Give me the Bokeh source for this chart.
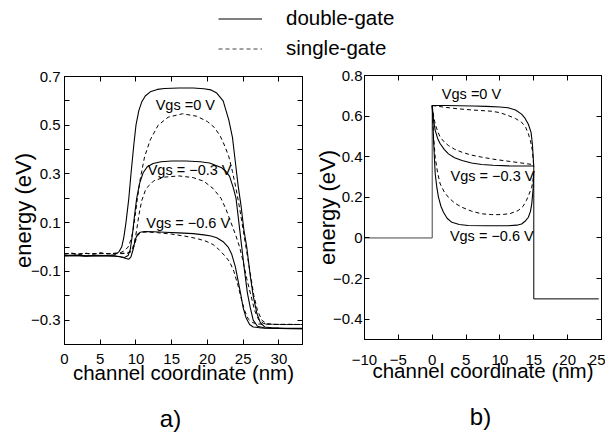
from bokeh.plotting import figure
from bokeh.layouts import column, row
from bokeh.models import Range1d, FixedTicker, LinearAxis, Label, Legend, LegendItem
from bokeh.embed import file_html
from bokeh.resources import INLINE

FONT = "Liberation Sans"

# ---------------- panel a) data ----------------
a_dg0_x = [0, 1.5, 3, 4.5, 6, 7.0, 7.6, 8.0, 8.3, 8.6, 9.0, 9.3, 9.7, 10.0, 10.4, 10.8, 11.3, 12.0, 13.0, 14.0, 16.0, 18.0, 19.5, 20.5, 21.3, 22.2, 23.0, 23.5, 23.9, 24.3, 24.7, 25.1, 25.5, 26.0, 26.4, 26.9, 27.4, 28.0, 29.0, 31.0, 33.3]
a_dg0_y = [-0.035, -0.033, -0.036, -0.034, -0.035, -0.032, -0.02, 0.0, 0.04, 0.1, 0.2, 0.3, 0.42, 0.5, 0.56, 0.595, 0.62, 0.637, 0.647, 0.651, 0.653, 0.653, 0.65, 0.645, 0.632, 0.6, 0.52, 0.45, 0.35, 0.25, 0.17, 0.07, 0.0, -0.12, -0.2, -0.27, -0.31, -0.328, -0.331, -0.333, -0.334]
a_dg3_x = [0, 1.5, 3, 4.5, 6, 7.0, 7.8, 8.4, 8.9, 9.2, 9.5, 9.8, 10.1, 10.5, 11.0, 11.6, 12.4, 13.5, 15.0, 17.0, 19.0, 20.3, 21.2, 22.0, 22.6, 23.1, 23.6, 24.0, 24.4, 24.8, 25.2, 25.6, 26.0, 26.4, 27.0, 28.0, 30.0, 33.3]
a_dg3_y = [-0.036, -0.034, -0.037, -0.035, -0.036, -0.036, -0.04, -0.043, -0.035, -0.01, 0.05, 0.13, 0.2, 0.26, 0.305, 0.33, 0.343, 0.35, 0.353, 0.353, 0.35, 0.345, 0.335, 0.325, 0.31, 0.29, 0.245, 0.2, 0.1, 0.0, -0.1, -0.19, -0.25, -0.3, -0.325, -0.332, -0.334, -0.335]
a_dg6_x = [0, 1.5, 3, 4.5, 6, 7.0, 7.8, 8.5, 9.0, 9.3, 9.6, 9.9, 10.2, 10.6, 11.2, 12.5, 14.0, 16.0, 18.0, 19.5, 20.5, 21.3, 22.2, 22.9, 23.4, 23.9, 24.3, 24.7, 25.0, 25.4, 25.9, 26.4, 27.5, 30.0, 33.3]
a_dg6_y = [-0.037, -0.035, -0.038, -0.036, -0.037, -0.038, -0.04, -0.046, -0.05, -0.04, -0.01, 0.03, 0.052, 0.061, 0.064, 0.063, 0.061, 0.058, 0.055, 0.05, 0.045, 0.038, 0.022, 0.0, -0.03, -0.08, -0.14, -0.2, -0.25, -0.29, -0.318, -0.328, -0.332, -0.334, -0.335]
a_sg0_x = [0, 1, 2, 3, 4, 5, 6, 7, 7.7, 8.4, 8.9, 9.3, 9.6, 9.9, 10.2, 10.6, 11.2, 12.0, 13.1, 14.5, 16.5, 18.5, 20.0, 21.0, 21.8, 22.5, 23.0, 23.5, 24.0, 24.5, 25.0, 25.5, 26.0, 26.5, 27.0, 27.6, 28.3, 29.5, 31.0, 33.3]
a_sg0_y = [-0.028, -0.025, -0.03, -0.026, -0.029, -0.025, -0.028, -0.026, -0.025, -0.015, 0.0, 0.03, 0.07, 0.13, 0.2, 0.28, 0.37, 0.44, 0.5, 0.533, 0.547, 0.537, 0.515, 0.49, 0.455, 0.41, 0.37, 0.31, 0.24, 0.16, 0.07, -0.02, -0.11, -0.2, -0.26, -0.3, -0.315, -0.318, -0.317, -0.318]
a_sg3_x = [0, 1, 2, 3, 4, 5, 6, 7, 8.0, 8.8, 9.4, 9.8, 10.1, 10.4, 10.8, 11.4, 12.5, 14.0, 16.0, 18.0, 19.5, 20.8, 21.9, 22.6, 23.3, 24.0, 24.5, 25.0, 25.5, 26.1, 26.6, 27.2, 27.9, 29.0, 31.0, 33.3]
a_sg3_y = [-0.028, -0.026, -0.029, -0.026, -0.028, -0.025, -0.027, -0.026, -0.026, -0.024, -0.015, 0.02, 0.07, 0.13, 0.19, 0.24, 0.272, 0.287, 0.292, 0.285, 0.27, 0.24, 0.2, 0.155, 0.1, 0.045, 0.0, -0.06, -0.13, -0.2, -0.26, -0.3, -0.314, -0.317, -0.318, -0.318]
a_sg6_x = [0, 1, 2, 3, 4, 5, 6, 7, 8.0, 8.8, 9.3, 9.7, 10.0, 10.3, 10.7, 11.5, 13.0, 15.0, 17.0, 18.5, 19.8, 20.8, 21.6, 22.4, 23.1, 23.7, 24.3, 24.8, 25.2, 25.7, 26.3, 27.0, 29.0, 31.0, 33.3]
a_sg6_y = [-0.028, -0.026, -0.029, -0.026, -0.028, -0.025, -0.027, -0.026, -0.027, -0.026, -0.02, 0.0, 0.03, 0.05, 0.06, 0.062, 0.059, 0.053, 0.044, 0.035, 0.024, 0.01, -0.01, -0.035, -0.06, -0.1, -0.16, -0.22, -0.26, -0.295, -0.31, -0.316, -0.317, -0.318, -0.318]

a_xticks = [0, 5, 10, 15, 20, 25, 30]
a_yticks = [-0.3, -0.1, 0.1, 0.3, 0.5, 0.7]
a_yminor = [-0.4, -0.2, 0.0, 0.2, 0.4, 0.6]

# ---------------- panel b) data ----------------
b_src_x = [-10, 0, 0]
b_src_y = [0, 0, 0.652]
b_drn_x = [15, 15, 24.6]
b_drn_y = [0.355, -0.3, -0.3]
b_dg0_x = [0, 2, 4, 6, 8, 10, 11.2, 12.3, 13.2, 13.7, 14.2, 14.6, 14.8, 15.0]
b_dg0_y = [0.652, 0.652, 0.651, 0.65, 0.648, 0.645, 0.641, 0.63, 0.61, 0.59, 0.56, 0.52, 0.46, 0.35]
b_sg0_x = [0, 2, 3.8, 6, 8.8, 10, 11.2, 12.3, 13.2, 13.8, 14.2, 14.5, 14.8, 15.0]
b_sg0_y = [0.652, 0.643, 0.636, 0.63, 0.624, 0.617, 0.603, 0.588, 0.57, 0.545, 0.513, 0.48, 0.43, 0.35]
b_dg3_x = [0, 0.2, 0.44, 0.8, 1.18, 1.8, 2.4, 3.3, 4.4, 5.8, 7.3, 9.0, 11.2, 13.0, 15.0]
b_dg3_y = [0.652, 0.58, 0.53, 0.49, 0.464, 0.435, 0.414, 0.395, 0.381, 0.369, 0.362, 0.358, 0.355, 0.354, 0.354]
b_sg3_x = [0, 0.2, 0.44, 0.8, 1.18, 1.8, 2.4, 3.3, 4.4, 5.8, 7.3, 9.0, 11.2, 13.0, 14.7, 15.0]
b_sg3_y = [0.652, 0.6, 0.562, 0.525, 0.496, 0.472, 0.455, 0.437, 0.422, 0.408, 0.398, 0.388, 0.378, 0.37, 0.362, 0.36]
b_dg6_x = [0, 0.1, 0.2, 0.44, 0.7, 0.93, 1.3, 1.66, 2.2, 2.9, 4.0, 5.3, 8.0, 11.2, 12.5, 13.2, 13.8, 14.2, 14.5, 14.7, 14.9, 15.0]
b_dg6_y = [0.652, 0.57, 0.48, 0.316, 0.245, 0.2, 0.155, 0.127, 0.097, 0.077, 0.066, 0.061, 0.06, 0.06, 0.063, 0.069, 0.085, 0.102, 0.13, 0.168, 0.24, 0.33]
b_sg6_x = [0, 0.2, 0.44, 0.8, 1.18, 1.8, 2.4, 3.3, 4.4, 5.8, 7.3, 8.8, 10.25, 11.5, 12.7, 13.4, 13.9, 14.3, 14.7, 14.9, 15.0]
b_sg6_y = [0.652, 0.5, 0.398, 0.32, 0.266, 0.225, 0.2, 0.172, 0.151, 0.132, 0.119, 0.115, 0.115, 0.12, 0.135, 0.155, 0.184, 0.215, 0.25, 0.29, 0.33]

b_xticks = [-10, -5, 0, 5, 10, 15, 20, 25]
b_yticks = [-0.4, -0.2, 0.0, 0.2, 0.4, 0.6, 0.8]

legend_labels = ["double-gate", "single-gate"]
vgs_labels = ["Vgs =0 V", "Vgs = \u22120.3 V", "Vgs = \u22120.6 V"]
panel_labels = ["a)", "b)"]
x_title = "channel coordinate (nm)"
y_title = "energy (eV)"


def fmt(v):
    s = ("%g" % v)
    return s.replace("-", "\u2212")


def style_axes(p, xt, yt, ymin=None, xlab_st=5, xtitle_st=0, ylab_st=4, ytitle_st=-3):
    xa = p.xaxis[0]
    ya = p.yaxis[0]
    for ax, ticks, minor in ((xa, xt, []), (ya, yt, ymin or [])):
        ax.ticker = FixedTicker(ticks=ticks, minor_ticks=minor)
        ax.major_label_overrides = {t: fmt(t) for t in ticks}
        ax.major_tick_in = 5
        ax.major_tick_out = 0
        ax.minor_tick_in = 5 if minor else 0
        ax.minor_tick_out = 0
        ax.axis_line_color = "black"
        ax.major_tick_line_color = "black"
        ax.minor_tick_line_color = "black"
        ax.major_label_text_font = FONT
        ax.major_label_text_font_size = "15px"
        ax.major_label_text_color = "black"
        ax.axis_label_text_font = FONT
        ax.axis_label_text_font_style = "normal"
        ax.axis_label_text_color = "black"
    xa.axis_label_text_font_size = "20.5px"
    ya.axis_label_text_font_size = "22px"
    xa.axis_label = x_title
    ya.axis_label = y_title
    xa.major_label_standoff = xlab_st
    xa.axis_label_standoff = xtitle_st
    ya.major_label_standoff = ylab_st
    ya.axis_label_standoff = ytitle_st
    # mirrored tick-only axes
    for loc, ticks, minor in (("above", xt, []), ("right", yt, ymin or [])):
        ax = LinearAxis(ticker=FixedTicker(ticks=ticks, minor_ticks=minor),
                        major_tick_in=5, major_tick_out=0,
                        minor_tick_in=5 if minor else 0, minor_tick_out=0,
                        major_label_text_font_size="0px", major_label_standoff=0,
                        major_label_overrides={t: "" for t in ticks},
                        axis_line_color="black")
        p.add_layout(ax, loc)
    p.xgrid.visible = False
    p.ygrid.visible = False
    p.outline_line_color = "black"


def bare(fig):
    fig.grid.visible = False
    return fig


SOLID = dict(line_color="black", line_width=1.1)
DASH = dict(line_color="black", line_width=1.0, line_dash="4 3")

# ---------------- legend strip (its lines sit outside the visible range) ----------------
pl = bare(figure(width=605, height=68, x_range=Range1d(100, 101), y_range=Range1d(100, 101),
                 min_border=0, toolbar_location=None, output_backend="svg",
                 x_axis_location=None, y_axis_location=None, outline_line_color=None))
r1 = pl.line(a_dg0_x, a_dg0_y, **SOLID)
r2 = pl.line(a_sg0_x, a_sg0_y, line_color="#444444", line_width=1.0, line_dash="4 3")
leg = Legend(items=[LegendItem(label=legend_labels[0], renderers=[r1]),
                    LegendItem(label=legend_labels[1], renderers=[r2])],
             location=(218, 8), orientation="vertical", glyph_width=44, glyph_height=23,
             label_standoff=24, spacing=6, padding=0, margin=0, label_height=23,
             border_line_color=None, background_fill_alpha=0,
             label_text_font=FONT, label_text_font_size="20.5px", label_text_color="black")
pl.add_layout(leg)

# ---------------- panel a ----------------
pa = figure(width=309, height=334, x_range=Range1d(0, 33.3), y_range=Range1d(-0.4, 0.7),
            min_border_left=64, min_border_right=7, min_border_top=8, min_border_bottom=58,
            toolbar_location=None, output_backend="svg")
style_axes(pa, a_xticks, a_yticks, a_yminor, xlab_st=9, xtitle_st=-6, ylab_st=4, ytitle_st=-8)
for xs, ys, st in ((a_dg0_x, a_dg0_y, SOLID), (a_dg3_x, a_dg3_y, SOLID), (a_dg6_x, a_dg6_y, SOLID),
                   (a_sg0_x, a_sg0_y, DASH), (a_sg3_x, a_sg3_y, DASH), (a_sg6_x, a_sg6_y, DASH)):
    pa.line(xs, ys, **st)
for txt, lx, ly in ((vgs_labels[0], 16.9, 0.585), (vgs_labels[1], 17.5, 0.318), (vgs_labels[2], 17.3, 0.1)):
    pa.add_layout(Label(x=lx, y=ly, text=txt, text_align="center", text_baseline="middle",
                        text_font=FONT, text_font_size="14.5px", text_color="black"))

# ---------------- panel b ----------------
pb = figure(width=296, height=334, x_range=Range1d(-10, 25), y_range=Range1d(-0.5, 0.8),
            min_border_left=55, min_border_right=4, min_border_top=7, min_border_bottom=63,
            toolbar_location=None, output_backend="svg")
style_axes(pb, b_xticks, b_yticks, None, xlab_st=15, xtitle_st=-9, ylab_st=2, ytitle_st=-10)
pb.line(b_src_x, b_src_y, line_color="#444444", line_width=1.0)
pb.line(b_drn_x, b_drn_y, line_color="black", line_width=1.0)
for xs, ys, st in ((b_dg0_x, b_dg0_y, SOLID), (b_dg3_x, b_dg3_y, SOLID), (b_dg6_x, b_dg6_y, SOLID),
                   (b_sg0_x, b_sg0_y, DASH), (b_sg3_x, b_sg3_y, DASH), (b_sg6_x, b_sg6_y, DASH)):
    pb.line(xs, ys, **st)
for txt, lx, ly in ((vgs_labels[0], 5.8, 0.71), (vgs_labels[1], 8.9, 0.303), (vgs_labels[2], 8.8, 0.008)):
    pb.add_layout(Label(x=lx, y=ly, text=txt, text_align="center", text_baseline="middle",
                        text_font=FONT, text_font_size="14.5px", text_color="black"))

# ---------------- panel captions strip ----------------
ps = bare(figure(width=605, height=30, x_range=Range1d(0, 605), y_range=Range1d(0, 30),
                 min_border=0, toolbar_location=None, output_backend="svg",
                 x_axis_location=None, y_axis_location=None, outline_line_color=None))
for txt, lx, ly in ((panel_labels[0], 170, 14), (panel_labels[1], 480, 16)):
    ps.add_layout(Label(x=lx, y=ly, text=txt, text_align="center", text_baseline="middle",
                        text_font=FONT, text_font_size="24px", text_color="black"))

layout = column(pl, row(column(pa), column(pb)), ps)
open("out.html", "w").write(file_html(layout, INLINE))
